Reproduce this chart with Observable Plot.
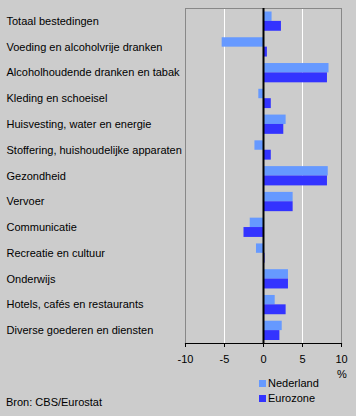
<!DOCTYPE html>
<html><head><meta charset="utf-8">
<script src="https://cdn.jsdelivr.net/npm/d3@7"></script>
<script src="https://cdn.jsdelivr.net/npm/@observablehq/plot@0.6"></script>
<style>
body{margin:0;background:#cccccc;font-family:Arial,"Liberation Sans",sans-serif;}
#wrap{position:relative;width:356px;height:416px;background:#cccccc;overflow:hidden;}
#wrap svg{position:absolute;left:0;top:0;}
.t{position:absolute;font-size:11px;color:#000;line-height:13px;white-space:nowrap;}
.sw{display:inline-block;width:7px;height:7px;margin-right:2px;vertical-align:0px;}
</style></head><body><div id="wrap"></div>
<script>
const categories = [
  "Totaal bestedingen",
  "Voeding en alcoholvrije dranken",
  "Alcoholhoudende dranken en tabak",
  "Kleding en schoeisel",
  "Huisvesting, water en energie",
  "Stoffering, huishoudelijke apparaten",
  "Gezondheid",
  "Vervoer",
  "Communicatie",
  "Recreatie en cultuur",
  "Onderwijs",
  "Hotels, cafés en restaurants",
  "Diverse goederen en diensten"
];
const nederland = [1.1, -5.3, 8.4, -0.6, 2.9, -1.1, 8.3, 3.8, -1.7, -0.9, 3.2, 1.5, 2.4];
const eurozone  = [2.3, 0.5, 8.2, 1.0, 2.6, 1.0, 8.2, 3.8, -2.5, 0.2, 3.2, 2.9, 2.1];
const seriesNames = ["Nederland", "Eurozone"];
const seriesColors = ["#6699ff", "#3333ff"];
const xTicks = [-10, -5, 0, 5, 10];
const gridTicks = [-5, 5];
const unitLabel = "%";
const sourceText = "Bron: CBS/Eurostat";

const W = 356, H = 416, mTop = 8, mBottom = 73, mLeft = 185, mRight = 15;
const step = (H - mTop - mBottom) / categories.length;
const half = step / 2;
const outer = 3.5;

const nlData = categories.map((c, i) => ({category: c, value: nederland[i]}));
const ezData = categories.map((c, i) => ({category: c, value: eurozone[i]}));

const plot = Plot.plot({
  width: W, height: H,
  marginTop: mTop, marginBottom: mBottom, marginLeft: mLeft, marginRight: mRight,
  style: {background: "#cccccc", fontFamily: "Arial, 'Liberation Sans', sans-serif", fontSize: "11px", color: "#000"},
  x: {domain: [-10, 10]},
  y: {domain: categories, padding: 0, round: false},
  marks: [
    Plot.ruleX(gridTicks, {stroke: "#ffffff", strokeWidth: 1, strokeOpacity: 1}),
    Plot.frame({stroke: "#888888", strokeWidth: 1}),
    Plot.barX(nlData, {x1: 0, x2: "value", y: "category", fill: seriesColors[0], insetTop: outer, insetBottom: half}),
    Plot.barX(ezData, {x1: 0, x2: "value", y: "category", fill: seriesColors[1], insetTop: half, insetBottom: outer - 0.5}),
    Plot.ruleX([0], {stroke: "#000000", strokeWidth: 2}),
    Plot.frame({anchor: "bottom", stroke: "#000000", strokeWidth: 1.2}),
    Plot.axisX({ticks: xTicks, tickFormat: d => String(d), tickSize: 4, tickPadding: 8, stroke: "#000", fill: "#000", fontSize: 11, label: null, strokeOpacity: 1}),
    Plot.axisY({anchor: "left", tickSize: 0, tickPadding: 0, textAnchor: "start", dx: -(mLeft - 6), fill: "#000", fontSize: 11, label: null})
  ]
});
const wrap = document.getElementById("wrap");
wrap.appendChild(plot);

function addText(html, left, top) {
  const d = document.createElement("div");
  d.className = "t";
  d.innerHTML = html;
  d.style.left = left + "px";
  d.style.top = top + "px";
  wrap.appendChild(d);
}
addText(unitLabel, 337, 368);
seriesNames.forEach((s, i) => {
  addText(`<span class="sw" style="background:${seriesColors[i]}"></span>${s}`, 259, 377 + i * 15);
});
addText(sourceText, 6, 396);
</script></body></html>
